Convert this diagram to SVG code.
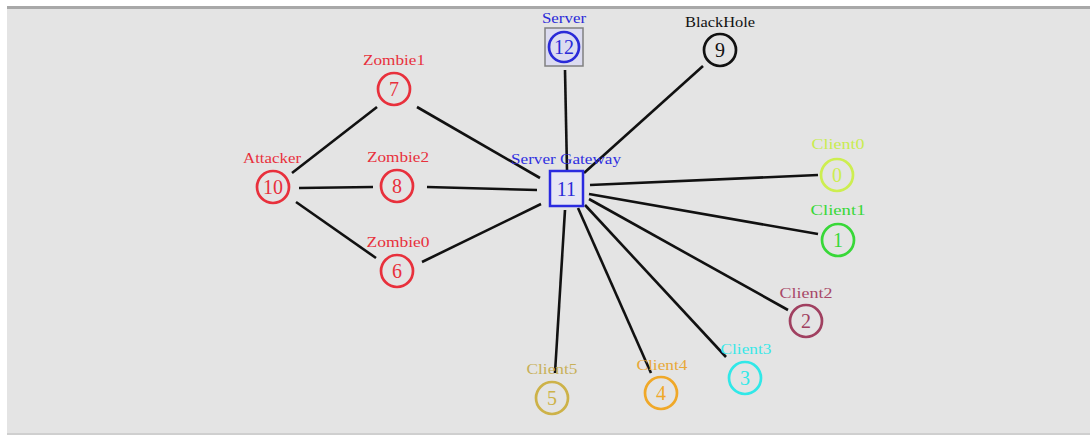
<svg xmlns="http://www.w3.org/2000/svg" width="1090" height="439" viewBox="0 0 1090 439">
<style>
.lbl{font-family:"Liberation Serif","DejaVu Serif",serif;font-size:14px;text-anchor:middle}
.num{font-family:"Liberation Serif","DejaVu Serif",serif;font-size:20px;text-anchor:middle}
.ring{fill:none;stroke-width:2.7}
.edge{stroke:#111;stroke-width:2.6;fill:none}
.red{fill:#e8303c}
.redS{stroke:#e8303c}
</style>
<rect x="0" y="0" width="1090" height="439" fill="#ffffff"/>
<rect x="7" y="6" width="1083" height="429" fill="#e4e4e4"/>
<rect x="7" y="6" width="1083" height="3" fill="#a8a8a8"/>
<rect x="7" y="433" width="1083" height="2" fill="#cfcfcf"/>
<g id="connectors">
<line class="edge" x1="292" y1="173" x2="377" y2="107"/>
<line class="edge" x1="299" y1="188" x2="373" y2="187"/>
<line class="edge" x1="296" y1="202" x2="376" y2="258"/>
<line class="edge" x1="417" y1="107" x2="540" y2="178"/>
<line class="edge" x1="427" y1="187" x2="537" y2="190"/>
<line class="edge" x1="422" y1="262" x2="541" y2="204"/>
<line class="edge" x1="565" y1="70" x2="567" y2="170"/>
<line class="edge" x1="703" y1="66" x2="584" y2="173"/>
<line class="edge" x1="590" y1="185" x2="818" y2="175"/>
<line class="edge" x1="589" y1="194" x2="818" y2="234"/>
<line class="edge" x1="589" y1="199" x2="788" y2="310"/>
<line class="edge" x1="585" y1="205" x2="726" y2="357"/>
<line class="edge" x1="578" y1="208" x2="651" y2="373"/>
<line class="edge" x1="565" y1="210" x2="555" y2="373"/>
</g>
<g id="node7">
<text class="lbl red" x="394" y="65" textLength="62" lengthAdjust="spacingAndGlyphs">Zombie1</text>
<circle class="ring redS" cx="394" cy="89" r="16"/>
<text class="num red" x="394" y="96">7</text>
</g>
<g id="node10">
<text class="lbl red" x="272" y="163" textLength="58" lengthAdjust="spacingAndGlyphs">Attacker</text>
<circle class="ring redS" cx="273" cy="187" r="16"/>
<text class="num red" x="273" y="194">10</text>
</g>
<g id="node8">
<text class="lbl red" x="398" y="162" textLength="62" lengthAdjust="spacingAndGlyphs">Zombie2</text>
<circle class="ring redS" cx="397" cy="186" r="16"/>
<text class="num red" x="397" y="193">8</text>
</g>
<g id="node6">
<text class="lbl red" x="398" y="247" textLength="63" lengthAdjust="spacingAndGlyphs">Zombie0</text>
<circle class="ring redS" cx="397" cy="271" r="16"/>
<text class="num red" x="397" y="278">6</text>
</g>
<g id="node12">
<text class="lbl" fill="#2a2ad8" x="564" y="23" textLength="44" lengthAdjust="spacingAndGlyphs">Server</text>
<rect x="545" y="28" width="38" height="38" fill="#dcdcf0" stroke="#808080" stroke-width="1.5"/>
<circle class="ring" stroke="#2a2ad8" cx="564" cy="47" r="15"/>
<text class="num" fill="#2a2ad8" x="564" y="54">12</text>
</g>
<g id="node9">
<text class="lbl" fill="#111" x="720" y="27" textLength="70" lengthAdjust="spacingAndGlyphs">BlackHole</text>
<circle class="ring" stroke="#111" cx="720" cy="50" r="16"/>
<text class="num" fill="#111" x="720" y="57">9</text>
</g>
<g id="node11">
<text class="lbl" fill="#3030e0" x="566" y="164" textLength="110" lengthAdjust="spacingAndGlyphs">Server Gateway</text>
<rect x="550" y="171" width="33" height="35" fill="#e6e6f4" stroke="#2a2ae0" stroke-width="2.5"/>
<text class="num" fill="#2a2ad8" x="566.5" y="196">11</text>
</g>
<g id="node0">
<text class="lbl" fill="#c8ec50" x="838" y="149" textLength="53" lengthAdjust="spacingAndGlyphs">Client0</text>
<circle class="ring" stroke="#cdee50" cx="837" cy="175" r="16"/>
<text class="num" fill="#cdee50" x="837" y="182">0</text>
</g>
<g id="node1">
<text class="lbl" fill="#38d838" x="838" y="215" textLength="55" lengthAdjust="spacingAndGlyphs">Client1</text>
<circle class="ring" stroke="#38d838" cx="838" cy="240" r="16"/>
<text class="num" fill="#38d838" x="838" y="247">1</text>
</g>
<g id="node2">
<text class="lbl" fill="#a84868" x="806" y="298" textLength="53" lengthAdjust="spacingAndGlyphs">Client2</text>
<circle class="ring" stroke="#a04060" cx="806" cy="321" r="16"/>
<text class="num" fill="#a04060" x="806" y="328">2</text>
</g>
<g id="node3">
<text class="lbl" fill="#38e8e8" x="746" y="354" textLength="51" lengthAdjust="spacingAndGlyphs">Client3</text>
<circle class="ring" stroke="#30e8e8" cx="745" cy="378" r="16"/>
<text class="num" fill="#30e8e8" x="745" y="385">3</text>
</g>
<g id="node4">
<text class="lbl" fill="#e8a838" x="662" y="370" textLength="51" lengthAdjust="spacingAndGlyphs">Client4</text>
<circle class="ring" stroke="#f0a828" cx="661" cy="393" r="16"/>
<text class="num" fill="#f0a828" x="661" y="400">4</text>
</g>
<g id="node5">
<text class="lbl" fill="#c8b058" x="552" y="374" textLength="51" lengthAdjust="spacingAndGlyphs">Client5</text>
<circle class="ring" stroke="#cdb248" cx="552" cy="398" r="16"/>
<text class="num" fill="#cdb248" x="552" y="405">5</text>
</g>
</svg>
